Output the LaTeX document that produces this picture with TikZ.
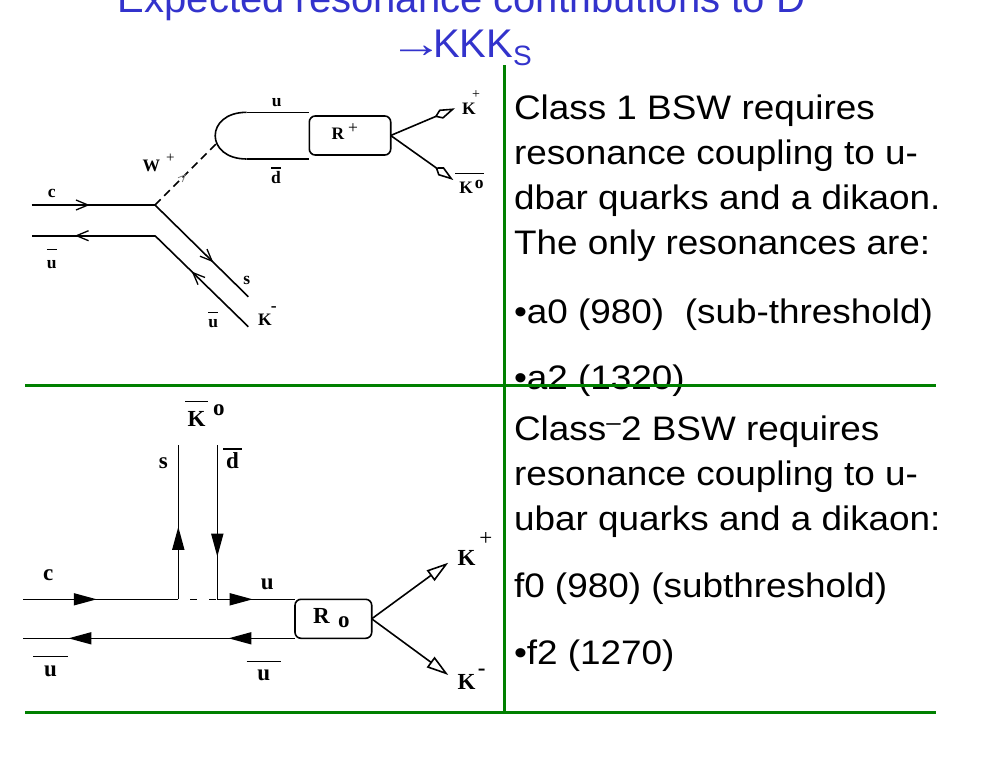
\documentclass[tikz,border=0pt]{standalone}
\usepackage{fontspec}
\usepackage{graphicx}
\setmainfont{Liberation Sans}
\newfontfamily\dfont{Liberation Serif}
\usetikzlibrary{arrows.meta,decorations.markings}
\definecolor{titleblue}{RGB}{51,51,204}
\definecolor{rulegreen}{RGB}{0,128,0}
\newcommand\myovl[3][1.3pt]{\leavevmode\vbox{\hrule height #1\vskip#2\hbox{#3}}}
\newcommand\myovlw[4][1.6pt]{\leavevmode\vbox{\hrule height #1\vskip#2\hbox to #3{\hss#4\hss}}}
\newcommand\mybt[1]{\scalebox{1.085}[1]{#1}}
\begin{document}
\begin{tikzpicture}[x=1pt,y=-1pt,
  every node/.style={inner sep=0pt,outer sep=0pt},
  ln/.style={line width=1.6pt},
  qbox/.style={draw,line width=1.6pt,rounded corners=6pt,inner sep=0pt},
  tarr/.style={postaction={decorate,decoration={markings,mark=at position #1 with {\arrow{Straight Barb[length=12pt,width=10pt,line width=1.3pt]}}}}},
  warr/.style={postaction={decorate,decoration={markings,mark=at position #1 with {\arrow[gray]{Straight Barb[length=7pt,width=6pt,line width=0.8pt]}}}}},
  barr/.style={postaction={decorate,decoration={markings,mark=at position #1 with {\arrow{Triangle[length=23pt,width=12pt]}}}}},
  kite/.style={-{Kite[open,length=22pt,width=10pt,inset=7pt]}},
  otri/.style={-{Triangle[open,length=22pt,width=13pt]}},
  tlab/.style={font=\dfont\bfseries\fontsize{17.5}{17.5}\selectfont},
  blab/.style={font=\dfont\bfseries\fontsize{23}{23}\selectfont},
  body/.style={anchor=base west,font=\fontsize{34}{40}\selectfont},
  ttl/.style={text=titleblue,font=\fontsize{40}{48}\selectfont},
  grn/.style={draw=rulegreen,line width=3pt}]
\useasboundingbox (0,0) rectangle (1008,768);
\clip (0,0) rectangle (1008,768);
\fill[white] (0,0) rectangle (1008,768);

% ---------- title ----------
\node[ttl,anchor=base] (title1) at (461.5,13) {Expected resonance contributions to D};
\node[ttl,anchor=base west] (title2) at (389,57) {\scalebox{1.35}[1]{→}\kern-10pt KKK\raisebox{-8pt}{\fontsize{28}{28}\selectfont S}};

% ---------- top diagram ----------
\coordinate (cL) at (31.7,205);
\coordinate (V) at (155,205);
\coordinate (uL) at (31.7,235.7);
\coordinate (V2) at (155,235.7);
\coordinate (sE) at (248.3,296.7);
\coordinate (ubE) at (248.3,326.7);
\coordinate (Wend) at (216.7,143.3);
\coordinate (lpT) at (246.7,112.3);
\coordinate (lpB) at (246.7,159);
\coordinate (Kp1) at (455,108.3);
\coordinate (K01) at (453.3,180);
\node[qbox,minimum width=81.4pt,minimum height=39pt] (Rp) at (350,135.5) {};

\draw[ln,tarr=0.47] (cL) -- (V);
\draw[ln,tarr=0.65] (V2) -- (uL);
\draw[ln,tarr=0.625] (V) -- (sE);
\draw[ln,tarr=0.607] (ubE) -- (V2);
\draw[ln,dash pattern=on 8pt off 5pt,warr=0.5] (V) -- (Wend);
\draw[ln] (lpT) -- (Rp.west |- lpT);
\draw[ln] (lpT) .. controls +(-42,0) and +(-42,0) .. (lpB);
\draw[ln] (lpB) -- (Rp.west |- lpB);
\draw[ln,kite] (Rp.east) -- (Kp1);
\draw[ln,kite] (Rp.east) -- (K01);

\node[tlab] (lc1) at (51.7,193.3) {c};
\node[tlab,anchor=base] (lub1) at (51.7,268) {\myovl[1.1pt]{10pt}{u}};
\node[tlab,anchor=base west] (lW) at (142.7,171.8) {W\hspace{6pt}\raisebox{9pt}{\mdseries\fontsize{15}{15}\selectfont+}};
\node[tlab] (lu1) at (276.7,102.7) {u};
\node[tlab,anchor=base] (ld1) at (276,183.2) {\myovl[1.1pt]{2.5pt}{d}};
\node[tlab,anchor=base west] (lR1) at (331.5,139.8) {R\hspace{4pt}\raisebox{6pt}{\mdseries+}};
\node[tlab,anchor=base west] (lKp1) at (462,114.1) {K\kern-3.5pt\raisebox{15.3pt}{\mdseries\fontsize{14}{14}\selectfont+}};
\node[tlab,anchor=base west] (lK01) at (455,193.1) {\myovlw[1.1pt]{5.5pt}{29pt}{\hspace{4pt}K\hspace{2pt}\raisebox{5pt}{o}}};
\node[tlab] (ls1) at (246.7,280) {s};
\node[tlab,anchor=base west] (lKm1) at (258,325.8) {K\kern-0.8pt\raisebox{14.6pt}{-}};
\node[tlab,anchor=base] (lub2) at (213.3,327.3) {\myovl[1.1pt]{6.5pt}{u}};

% ---------- bottom diagram ----------
\coordinate (cL2) at (23.3,599.3);
\coordinate (J1) at (178.3,599.3);
\coordinate (J2) at (217.3,599.3);
\coordinate (uL2) at (23.3,638.3);
\coordinate (sT) at (178.3,445);
\coordinate (dT) at (217.3,445);
\coordinate (Kp2) at (448.3,562.7);
\coordinate (Km2) at (448.3,675);
\node[qbox,minimum width=76.7pt,minimum height=39pt] (R0) at (333.35,618.8) {};

\draw[ln,barr=0.474] (cL2) -- (J1);
\draw[ln,dash pattern=on 7pt off 12pt,dash phase=7pt] (J1) -- (J2);
\draw[ln,barr=0.456] (J2) -- (R0.north west);
\draw[ln,barr=0.245,barr=0.834] (R0.south west) -- (uL2);
\draw[ln,barr=0.47] (J1) -- (sT);
\draw[ln,barr=0.724] (dT) -- (J2);
\draw[ln,otri] (R0.east) -- (Kp2);
\draw[ln,otri] (R0.east) -- (Km2);

\node[blab,anchor=base west] (lK0b) at (185,426) {\myovlw{8.5pt}{23pt}{K}\hspace{5pt}\raisebox{10.5pt}{o}};
\node[blab] (ls2) at (163.3,462.7) {s};
\node[blab,anchor=base] (ld2) at (232.5,468.5) {\myovlw{3pt}{18.4pt}{d}};
\node[blab] (lc2) at (48.3,575) {c};
\node[blab] (lu2) at (267.3,584.3) {u};
\node[blab,anchor=base west] (lR0) at (313,623.5) {R\hspace{8.5pt}\raisebox{-4.2pt}{o}};
\node[blab,anchor=base west] (lKp2) at (457.5,565.8) {K\hspace{4pt}\raisebox{20pt}{\mdseries+}};
\node[blab,anchor=base west] (lKm2) at (457.5,689.2) {K\hspace{2.5pt}\raisebox{13.4pt}{-}};
\node[blab,anchor=base] (lub3) at (50.5,676) {\myovlw{8pt}{34.4pt}{u}};
\node[blab,anchor=base] (lub4) at (263.7,680.3) {\myovlw{7.5pt}{34pt}{u}};

% ---------- right text ----------
\node[body] (t1) at (514,119.3) {\mybt{Class 1 BSW requires}};
\node[body] (t2) at (514,164.3) {\mybt{resonance coupling to u-}};
\node[body] (t3) at (514,209.3) {\mybt{dbar quarks and a dikaon.}};
\node[body] (t4) at (514,254.3) {\mybt{The only resonances are:}};
\node[body] (t5) at (514,323.5) {\mybt{•a0 (980)\ \ (sub-threshold)}};
\node[body] (t6) at (514,389) {\mybt{•a2 (1320)}};
\node[body] (t7) at (514,440) {\mybt{Class\textsuperscript{–}2 BSW requires}};
\node[body] (t8) at (514,485) {\mybt{resonance coupling to u-}};
\node[body] (t9) at (514,530) {\mybt{ubar quarks and a dikaon:}};
\node[body] (t10) at (514,597) {\mybt{f0 (980) (subthreshold)}};
\node[body] (t11) at (514,664) {\mybt{•f2 (1270)}};

% ---------- green rules ----------
\coordinate (gvT) at (504,65);
\coordinate (gvB) at (504,712);
\coordinate (gh1L) at (25,385);
\coordinate (gh1R) at (936,385);
\coordinate (gh2L) at (25,712);
\coordinate (gh2R) at (936,712);
\draw[grn] (gvT) -- (gvB);
\draw[grn] (gh1L) -- (gh1R);
\draw[grn] (gh2L) -- (gh2R);
\end{tikzpicture}
\end{document}
